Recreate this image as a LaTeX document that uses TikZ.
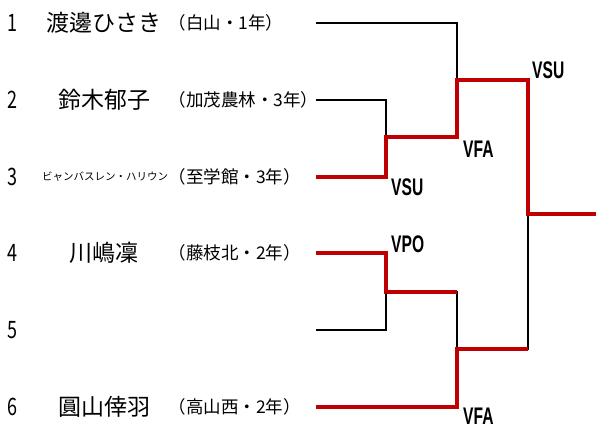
\documentclass[tikz,border=0pt]{standalone}
\usepackage{fontspec}
\setmainfont{Noto Sans CJK JP}
\newfontfamily\labfont{Liberation Sans}
\definecolor{winred}{RGB}{192,0,0}
\begin{document}
\begin{tikzpicture}[x=1pt,y=-1pt,
  num/.style={anchor=center,inner sep=0pt,font=\fontsize{24}{24}\selectfont},
  pname/.style={anchor=center,inner sep=0pt,font=\fontsize{23}{23}\selectfont},
  kname/.style={anchor=center,inner sep=0pt,font=\fontsize{10.5}{10.5}\selectfont},
  aff/.style={anchor=west,inner sep=0pt,font=\fontsize{17.5}{17.5}\selectfont},
  res/.style={anchor=base west,inner sep=0pt,font=\labfont\bfseries\fontsize{24}{24}\selectfont},
  lost/.style={draw=black,line width=1.2pt},
  won/.style={draw=winred,line width=4pt,line join=miter}]
\useasboundingbox (0,0) rectangle (596,428);
% numbers
\foreach \i/\y in {1/23,2/100,3/177,4/253,5/330,6/407}{
  \node[num] (n\i) at (12,\y) {\scalebox{0.75}[1]{\i}};
}
% names
\node[pname] (name1) at (104,23) {渡邊ひさき};
\node[pname] (name2) at (104,100) {鈴木郁子};
\node[kname] (name3) at (105,177) {ビャンバスレン・ハリウン};
\node[pname] (name4) at (104,253) {川嶋凜};
\node[pname] (name6) at (104,407) {圓山倖羽};
% affiliations
\node[aff] (aff1) at (168.5,23) {（白山・1年）};
\node[aff] (aff2) at (168.5,100) {（加茂農林・3年）};
\node[aff] (aff3) at (168.5,177) {（至学館・3年）};
\node[aff] (aff4) at (168.5,253) {（藤枝北・2年）};
\node[aff] (aff6) at (168.5,407) {（高山西・2年）};
% bracket points
\coordinate (e1) at (316,23);
\coordinate (e2) at (316,100);
\coordinate (e3) at (316,177);
\coordinate (e4) at (316,253);
\coordinate (e5) at (316,330);
\coordinate (e6) at (316,407);
\coordinate (m12) at (386,137);
\coordinate (m45) at (386,292);
\coordinate (q1) at (457,80);
\coordinate (q2) at (457,349);
\coordinate (f) at (528,214);
\coordinate (champ) at (596,214);
% full bracket
\draw[lost] (e1) -| (q1);
\draw[lost] (e2) -| (m12);
\draw[lost] (e5) -| (m45);
\draw[lost] (m45) -| (q2);
\draw[lost] (q2) -| (f);
% winners
\draw[won] (e3) -| (m12) -| (q1) -| (f) -- (champ);
\draw[won] (e4) -| (m45) -- (q2 |- m45);
\draw[won] (e6) -| (q2) -- (f |- q2);
% results
\node[res] (r1) at (391,195) {\scalebox{0.65}[1]{VSU}};
\node[res] (r2) at (463,157) {\scalebox{0.65}[1]{VFA}};
\node[res] (r3) at (532,78) {\scalebox{0.65}[1]{VSU}};
\node[res] (r4) at (391,252) {\scalebox{0.65}[1]{VPO}};
\node[res] (r5) at (463,424) {\scalebox{0.65}[1]{VFA}};
\end{tikzpicture}
\end{document}
